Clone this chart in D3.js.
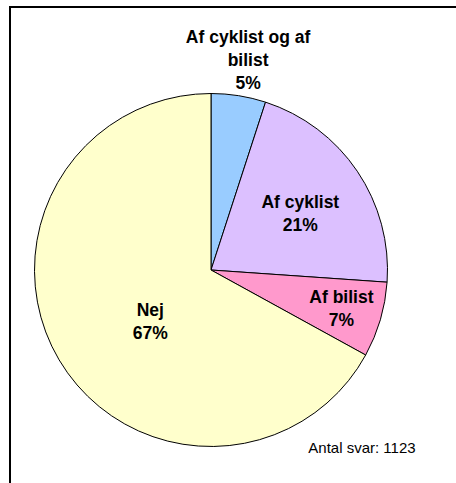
<!DOCTYPE html>
<html>
<head>
<meta charset="utf-8">
<script src="https://cdn.jsdelivr.net/npm/d3@7"></script>
<style>
  body { margin: 0; background: #fff; }
  svg { display: block; font-family: "Liberation Sans", Arial, sans-serif; }
</style>
</head>
<body>
<div id="chart"></div>
<script>
// Chart data (share of answers, read clockwise from 12 o'clock)
var categories = ["Af cyklist og af bilist", "Af cyklist", "Af bilist", "Nej"];
var labelLines = [["Af cyklist og af", "bilist"], ["Af cyklist"], ["Af bilist"], ["Nej"]];
var shares = [5.0, 21.1, 6.9, 67.0];
var sampleNote = "Antal svar: 1123";

// Layout
var svgWidth = 456;
var svgHeight = 483;
var cx = 211, cy = 270, radius = 176.5;
var lineGap = 23;
// label placement: fraction of radius and angle nudge (degrees) per slice
var labelRadius = [1.21, 0.6, 0.77, 0.45];
var labelNudge = [1, 1.5, 0, -9.6];

var color = d3.scaleOrdinal()
    .domain(categories)
    .range(["#99ccff", "#dcc0ff", "#ff99cc", "#ffffcc"]);

var svg = d3.select("#chart")
    .append("svg")
    .attr("width", svgWidth)
    .attr("height", svgHeight);

// Frame (right/bottom edges fall outside the window)
svg.append("rect")
    .attr("x", 10)
    .attr("y", 7)
    .attr("width", 500)
    .attr("height", 500)
    .attr("fill", "#fff")
    .attr("stroke", "#000")
    .attr("stroke-width", 2);

var data = categories.map(function(c, i) {
    return { name: c, value: shares[i], lines: labelLines[i], idx: i };
});

var pie = d3.pie()
    .sort(null)
    .value(d => d.value);

var arc = d3.arc()
    .innerRadius(0)
    .outerRadius(radius);

var g = svg.append("g")
    .attr("transform", `translate(${cx}, ${cy})`);

var arcs = pie(data);

g.selectAll("path")
    .data(arcs)
    .enter()
    .append("path")
    .attr("d", arc)
    .attr("fill", d => color(d.data.name))
    .attr("stroke", "#000")
    .attr("stroke-width", 1);

// Labels
var labels = g.selectAll("text.slice")
    .data(arcs)
    .enter()
    .append("text")
    .attr("class", "slice")
    .attr("text-anchor", "middle")
    .style("font-size", "17.5px")
    .style("font-weight", "bold")
    .style("fill", "#000")
    .attr("transform", function(d) {
        var i = d.data.idx;
        var a = (d.startAngle + d.endAngle) / 2 + labelNudge[i] * Math.PI / 180;
        var r = radius * labelRadius[i];
        return `translate(${Math.sin(a) * r}, ${-Math.cos(a) * r})`;
    });

labels.each(function(d) {
    var lines = d.data.lines.concat([Math.round(d.data.value) + "%"]);
    var t = d3.select(this);
    var top = -(lines.length - 1) * lineGap / 2 + 6.3;
    lines.forEach(function(s, k) {
        t.append("tspan")
            .attr("x", 0)
            .attr("y", top + k * lineGap)
            .text(s);
    });
});

// Sample size note
svg.append("text")
    .attr("x", 362)
    .attr("y", 453)
    .attr("text-anchor", "middle")
    .style("font-size", "15px")
    .style("fill", "#000")
    .text(sampleNote);
</script>
</body>
</html>
